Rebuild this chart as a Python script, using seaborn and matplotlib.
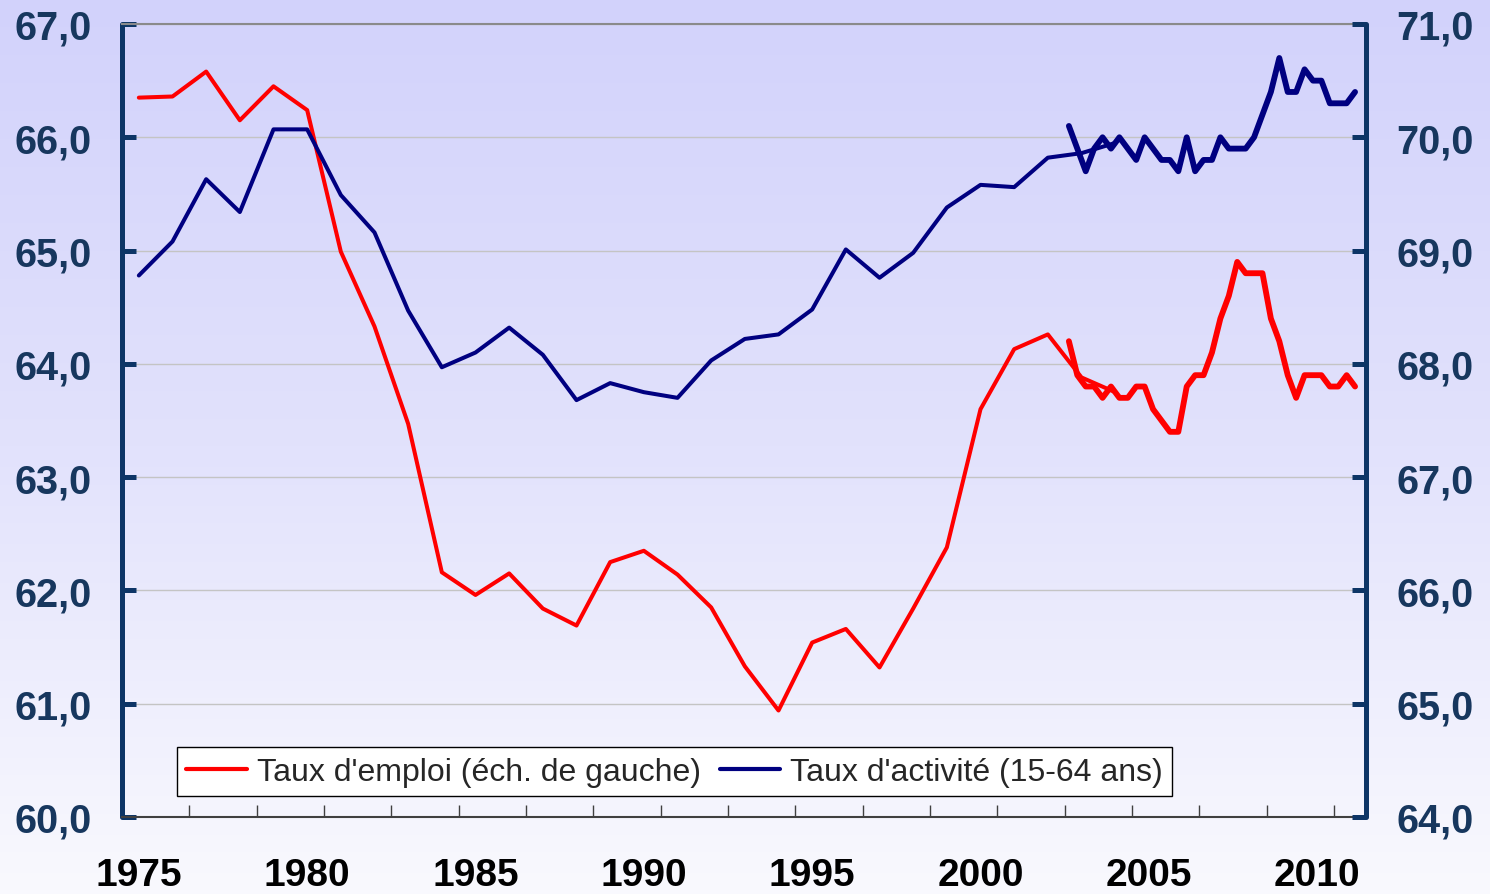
import numpy as np
import pandas as pd
import matplotlib
matplotlib.use("Agg")
import matplotlib.pyplot as plt
import seaborn as sns
from matplotlib.colors import LinearSegmentedColormap
from matplotlib.lines import Line2D
from matplotlib.ticker import FuncFormatter

# Annual series, 1975-2004
years = list(range(1975, 2005))
emploi_annual = [66.35, 66.36, 66.58, 66.15, 66.45, 66.24, 64.99, 64.33, 63.47, 62.16,
                 61.96, 62.15, 61.84, 61.69, 62.25, 62.35, 62.14, 61.85, 61.33, 60.94,
                 61.54, 61.66, 61.32, 61.84, 62.38, 63.60, 64.13, 64.26, 63.88, 63.75]
activite_annual = [68.78, 69.08, 69.63, 69.34, 70.07, 70.07, 69.49, 69.16, 68.47, 67.97,
                   68.10, 68.32, 68.08, 67.68, 67.83, 67.75, 67.70, 68.03, 68.22, 68.26,
                   68.48, 69.01, 68.76, 68.98, 69.38, 69.58, 69.56, 69.82, 69.86, 69.95]

# Quarterly series (35 quarters), plotted on the same year axis
quarters = [2002.625 + 0.25 * i for i in range(35)]
emploi_q = [64.2, 63.9, 63.8, 63.8, 63.7, 63.8, 63.7, 63.7, 63.8, 63.8,
            63.6, 63.5, 63.4, 63.4, 63.8, 63.9, 63.9, 64.1, 64.4, 64.6,
            64.9, 64.8, 64.8, 64.8, 64.4, 64.2, 63.9, 63.7, 63.9, 63.9,
            63.9, 63.8, 63.8, 63.9, 63.8]
activite_q = [70.1, 69.9, 69.7, 69.9, 70.0, 69.9, 70.0, 69.9, 69.8, 70.0,
              69.9, 69.8, 69.8, 69.7, 70.0, 69.7, 69.8, 69.8, 70.0, 69.9,
              69.9, 69.9, 70.0, 70.2, 70.4, 70.7, 70.4, 70.4, 70.6, 70.5,
              70.5, 70.3, 70.3, 70.3, 70.4]

label_years = [1975, 1980, 1985, 1990, 1995, 2000, 2005, 2010]
left_ticks = [60, 61, 62, 63, 64, 65, 66, 67]
right_ticks = [64, 65, 66, 67, 68, 69, 70, 71]
legend_labels = ["Taux d'emploi (éch. de gauche)", "Taux d'activité (15-64 ans)"]

sns.set_theme(style="white")
plt.rcParams['font.family'] = ['Liberation Sans', 'DejaVu Sans']

RED = '#ff0000'
NAVY = '#000080'
AXIS = '#0d3566'
LABEL = '#17375e'

fig = plt.figure(figsize=(14.9, 8.95), dpi=100)

# background gradient
bg = fig.add_axes([0, 0, 1, 1], zorder=-10)
cmap = LinearSegmentedColormap.from_list('bg', ['#d2d2fb', '#e2e2fc', '#f9f9fe'])
bg.imshow(np.linspace(0, 1, 256).reshape(-1, 1), aspect='auto', cmap=cmap,
          extent=[0, 1, 0, 1], origin='upper')
bg.axis('off')

ax = fig.add_axes([122 / 1490, 1 - 818 / 895, 1244 / 1490, 793 / 895])
ax.patch.set_alpha(0)
ax2 = ax.twinx()
ax2.patch.set_alpha(0)

df_a = pd.DataFrame({'year': years, 'emploi': emploi_annual, 'activite': activite_annual})
df_q = pd.DataFrame({'year': quarters, 'emploi': emploi_q, 'activite': activite_q})

sns.lineplot(data=df_a, x='year', y='emploi', ax=ax, color=RED, lw=2.9, legend=False)
sns.lineplot(data=df_q, x='year', y='emploi', ax=ax, color=RED, lw=4.2, legend=False)
sns.lineplot(data=df_a, x='year', y='activite', ax=ax2, color=NAVY, lw=2.9, legend=False)
sns.lineplot(data=df_q, x='year', y='activite', ax=ax2, color=NAVY, lw=4.2, legend=False)

ax.set_xlim(1974.5, 2011.45)
ax.set_ylim(60, 67)
ax2.set_ylim(64, 71)

fmt = FuncFormatter(lambda v, p: f"{v:.1f}".replace('.', ','))
ax.set_yticks(left_ticks)
ax2.set_yticks(right_ticks)
ax.yaxis.set_major_formatter(fmt)
ax2.yaxis.set_major_formatter(fmt)

ax.yaxis.grid(True, color='#c4c4c4', lw=1)
ax.set_axisbelow(True)
ax.xaxis.grid(False)

for a in (ax, ax2):
    a.set_xlabel('')
    a.set_ylabel('')

ax.tick_params(axis='y', direction='in', length=10, width=3.6, color=AXIS,
               pad=22, labelsize=28.5, labelcolor=LABEL)
ax2.tick_params(axis='y', direction='in', length=10, width=3.6, color=AXIS,
                pad=22, labelsize=28.5, labelcolor=LABEL)
for lab in ax.get_yticklabels() + ax2.get_yticklabels():
    lab.set_fontweight('bold')
for t in ax.yaxis.get_major_ticks() + ax2.yaxis.get_major_ticks():
    t.tick1line.set_solid_capstyle('round')
    t.tick2line.set_solid_capstyle('round')

ax.set_xticks(label_years)
ax.set_xticklabels([str(y) for y in label_years], fontweight='bold')
ax.set_xticks([1976.5 + 2 * k for k in range(18)], minor=True)
ax.tick_params(axis='x', which='major', length=0, pad=29, labelsize=28, labelcolor='black')
ax.tick_params(axis='x', which='minor', direction='in', length=8.5, width=1, color='#404040',
               bottom=True)

for a in (ax, ax2):
    for s in ('left', 'right', 'top', 'bottom'):
        a.spines[s].set_visible(False)
ax.spines['left'].set_visible(True)
ax.spines['left'].set_color(AXIS)
ax.spines['left'].set_linewidth(3.6)
ax.spines['left'].set_capstyle('round')
ax2.spines['right'].set_visible(True)
ax2.spines['right'].set_color(AXIS)
ax2.spines['right'].set_linewidth(3.6)
ax2.spines['right'].set_capstyle('round')
ax.spines['bottom'].set_visible(True)
ax.spines['bottom'].set_color('#404040')
ax.spines['bottom'].set_linewidth(1.5)
ax.spines['top'].set_visible(True)
ax.spines['top'].set_color('#8a8a8a')
ax.spines['top'].set_linewidth(1.5)

handles = [Line2D([], [], color=RED, lw=3), Line2D([], [], color=NAVY, lw=3)]
leg = ax2.legend(handles, legend_labels, loc='lower left', bbox_to_anchor=(0.044, 0.026),
                 ncol=2, frameon=True, fancybox=False, fontsize=23, handlelength=1.9,
                 handletextpad=0.3, columnspacing=0.6, borderpad=0.3, borderaxespad=0)
leg.get_frame().set_edgecolor('black')
leg.get_frame().set_linewidth(1)
leg.get_frame().set_facecolor('white')
leg.get_frame().set_alpha(1)

fig.savefig('out.png', dpi=100)
